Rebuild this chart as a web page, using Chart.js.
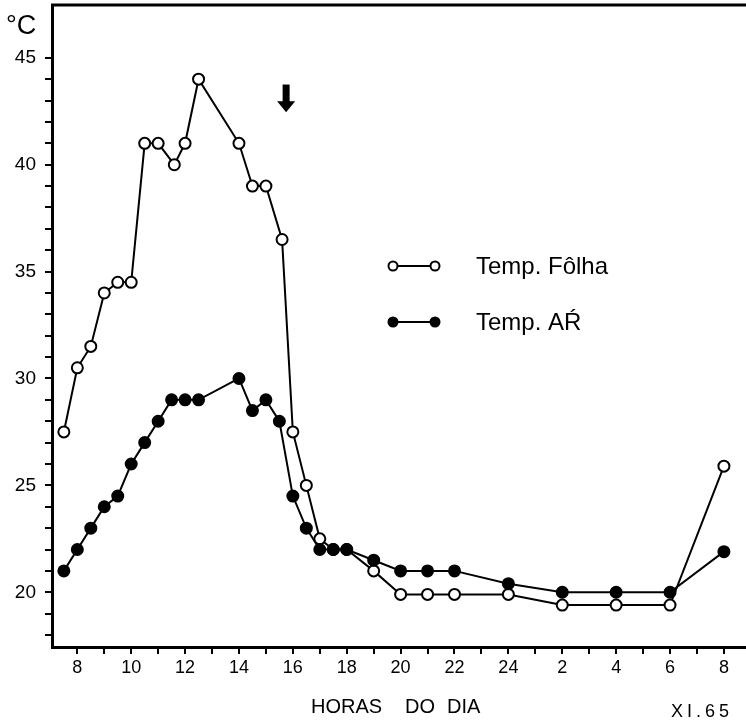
<!DOCTYPE html>
<html>
<head>
<meta charset="utf-8">
<script src="https://cdn.jsdelivr.net/npm/chart.js@4.4.1/dist/chart.umd.min.js"></script>
<style>
  body { margin: 0; background: #fff; }
  canvas { display: block; }
</style>
</head>
<body>
<canvas id="tempChart" width="746" height="722"></canvas>
<script>
// hours of the day (after 24 the count goes on: 26 = 2h next day)
const leafHours = [7.5, 8, 8.5, 9, 9.5, 10, 10.5, 11, 11.6, 12, 12.5, 14, 14.5, 15, 15.6, 16, 16.5, 17, 17.5, 18, 19, 20, 21, 22, 24, 26, 28, 30, 32];
const leafTemp = [27.5, 30.5, 31.5, 34, 34.5, 34.5, 41, 41, 40, 41, 44, 41, 39, 39, 36.5, 27.5, 25, 22.5, 22, 22, 21, 19.9, 19.9, 19.9, 19.9, 19.4, 19.4, 19.4, 25.9];
const airHours = [7.5, 8, 8.5, 9, 9.5, 10, 10.5, 11, 11.5, 12, 12.5, 14, 14.5, 15, 15.5, 16, 16.5, 17, 17.5, 18, 19, 20, 21, 22, 24, 26, 28, 30, 32];
const airTemp = [21, 22, 23, 24, 24.5, 26, 27, 28, 29, 29, 29, 30, 28.5, 29, 28, 24.5, 23, 22, 22, 22, 21.5, 21, 21, 21, 20.4, 20, 20, 20, 21.9];
const xTicks = [8, 9, 10, 11, 12, 13, 14, 15, 16, 17, 18, 19, 20, 21, 22, 23, 24, 25, 26, 27, 28, 29, 30, 31, 32];
const yTicks = [18, 19, 20, 21, 22, 23, 24, 25, 26, 27, 28, 29, 30, 31, 32, 33, 34, 35, 36, 37, 38, 39, 40, 41, 42, 43, 44, 45];
const legendLabels = ['Temp. Fôlha', 'Temp. AŔ'];
const arrowHour = 15.75;

const FONT = '"Liberation Sans", Arial, sans-serif';
const ctx = document.getElementById('tempChart').getContext('2d');

const toPoints = (xs, ys) => xs.map((x, i) => ({ x: x, y: ys[i] }));

// no extra room for overflowing tick labels
const noScalePadding = (scale) => {
    scale.paddingLeft = 0;
    scale.paddingRight = 0;
    scale.paddingTop = 0;
    scale.paddingBottom = 0;
};

// extra drawing: top frame line, °C, axis title, date, legend, arrow
const extras = {
    id: 'extras',
    afterDraw(chart) {
        const c = chart.ctx;
        const area = chart.chartArea;
        const xs = chart.scales.x;
        const ys = chart.scales.y;
        c.save();
        c.strokeStyle = '#000';
        c.fillStyle = '#000';

        // top frame line
        c.lineWidth = 3;
        c.beginPath();
        c.moveTo(area.left - 1, area.top);
        c.lineTo(area.right, area.top);
        c.stroke();

        c.font = '27px ' + FONT;
        c.textBaseline = 'alphabetic';
        c.fillText('°C', 6, 34);

        c.font = '20px ' + FONT;
        c.fillText('HORAS', 311, 713);
        c.fillText('DO', 405, 713);
        c.fillText('DIA', 447, 713);

        c.font = '18px ' + FONT;
        c.letterSpacing = '4px';
        c.fillText('XI.65', 671, 717);
        c.letterSpacing = '0px';

        // legend
        const rows = [{ y: 266, fill: '#fff' }, { y: 322, fill: '#000' }];
        rows.forEach((r, i) => {
            c.lineWidth = 2;
            c.beginPath();
            c.moveTo(398, r.y);
            c.lineTo(431, r.y);
            c.stroke();
            [393, 435].forEach(px => {
                c.beginPath();
                c.arc(px, r.y, 4.5, 0, Math.PI * 2);
                c.fillStyle = r.fill;
                c.fill();
                c.stroke();
            });
            c.fillStyle = '#000';
            c.font = '24px ' + FONT;
            c.fillText(legendLabels[i], 476, r.y + 8);
        });

        // arrow
        const ax = xs.getPixelForValue(arrowHour);
        const top = ys.getPixelForValue(43.75);
        const tip = ys.getPixelForValue(42.45);
        c.fillRect(ax - 3.5, top, 7, tip - top - 10);
        c.beginPath();
        c.moveTo(ax - 9, tip - 11);
        c.lineTo(ax + 9, tip - 11);
        c.lineTo(ax, tip);
        c.closePath();
        c.fill();
        c.restore();
    }
};

new Chart(ctx, {
    type: 'line',
    data: {
        datasets: [
            {
                label: legendLabels[1],
                data: toPoints(airHours, airTemp),
                borderColor: '#000',
                borderWidth: 2,
                pointRadius: 5.5,
                pointBorderWidth: 2,
                pointBorderColor: '#000',
                pointBackgroundColor: '#000',
                tension: 0
            },
            {
                label: legendLabels[0],
                data: toPoints(leafHours, leafTemp),
                borderColor: '#000',
                borderWidth: 2,
                pointRadius: 5.5,
                pointBorderWidth: 2,
                pointBorderColor: '#000',
                pointBackgroundColor: '#fff',
                tension: 0
            }
        ]
    },
    options: {
        responsive: false,
        animation: false,
        layout: { autoPadding: false, padding: { top: 5, right: 0, left: 0, bottom: 0 } },
        plugins: {
            legend: { display: false },
            tooltip: { enabled: false }
        },
        scales: {
            x: {
                type: 'linear',
                min: 7.06,
                max: 32.82,
                afterBuildTicks: (scale) => { scale.ticks = xTicks.map(v => ({ value: v })); },
                afterFit: (scale) => { scale.height = 75; noScalePadding(scale); },
                border: { display: true, color: '#000', width: 3 },
                grid: { drawOnChartArea: false, tickLength: 7, color: '#000', lineWidth: 2 },
                ticks: {
                    autoSkip: false,
                    maxRotation: 0,
                    color: '#000',
                    padding: 3,
                    font: { family: FONT, size: 18 },
                    callback: (v) => (v % 2 ? '' : String(v > 24 ? v - 24 : v))
                }
            },
            y: {
                type: 'linear',
                min: 17.44,
                max: 47.47,
                afterBuildTicks: (scale) => { scale.ticks = yTicks.map(v => ({ value: v })); },
                afterFit: (scale) => { scale.width = 52; noScalePadding(scale); },
                border: { display: true, color: '#000', width: 3 },
                grid: { drawOnChartArea: false, tickLength: 7, color: '#000', lineWidth: 2 },
                ticks: {
                    autoSkip: false,
                    color: '#000',
                    padding: 9,
                    font: { family: FONT, size: 19 },
                    callback: (v) => (v % 5 ? '' : String(v))
                }
            }
        }
    },
    plugins: [extras]
});
</script>
</body>
</html>
